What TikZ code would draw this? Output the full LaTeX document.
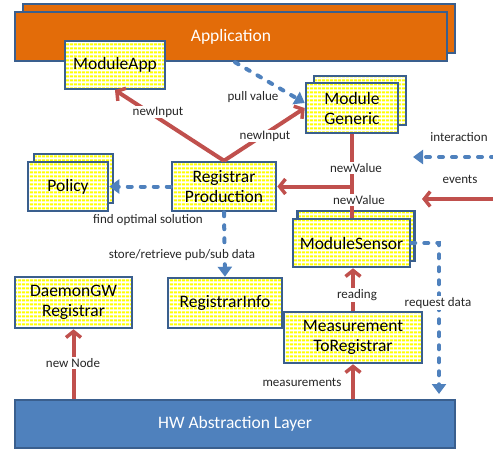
\documentclass[tikz,border=0pt]{standalone}
\usepackage{fontspec}
\setmainfont{Carlito}
\usetikzlibrary{arrows.meta,patterns.meta,calc}
\definecolor{appor}{HTML}{E36C09}
\definecolor{edgeblue}{HTML}{3A5F8E}
\definecolor{redc}{HTML}{C0504D}
\definecolor{blued}{HTML}{4F81BD}
\definecolor{hwblue}{HTML}{4F81BD}
\tikzset{
  box/.style={draw=edgeblue, line width=2.5pt, preaction={fill=white},
    pattern={Lines[angle=0,distance=4pt,line width=2.2pt]}, pattern color=yellow,
    align=center, inner sep=0pt, font=\fontsize{17.5}{20}\selectfont, text=black},
  bigbar/.style={draw=edgeblue, line width=2.5pt, inner sep=0pt,
    font=\fontsize{17.5}{20}\selectfont, text=white},
  lab/.style={fill=white, inner sep=1pt, font=\fontsize{13}{15}\selectfont, text=black!85},
  redarr/.style={draw=redc, line width=4pt, -{Straight Barb[length=6pt,width=15pt,line width=3.5pt]}},
  redln/.style={draw=redc, line width=4pt},
  bluearr/.style={draw=blued, line width=4pt, line cap=round, dash pattern=on 4pt off 9pt,
    -{Triangle[length=10pt,width=14pt,line cap=butt]}},
}
\begin{document}
\begin{tikzpicture}[x=1pt,y=-1pt]
\useasboundingbox (0,0) rectangle (493,452);
% Application
\node[bigbar, fill=appor, minimum width=432pt, minimum height=49pt] (appB) at (239,28.5) {};
\node[bigbar, fill=appor, minimum width=432pt, minimum height=49pt] (app) at (231,36.5) {Application};
% HW layer
\node[bigbar, fill=hwblue, minimum width=440pt, minimum height=48pt] (hw) at (235,424) {HW Abstraction Layer};
% boxes
\node[box, minimum width=100pt, minimum height=48pt] (mapp) at (115,65) {ModuleApp};
\node[box, minimum width=92pt, minimum height=49pt] (genB) at (360,100.5) {};
\node[box, minimum width=92pt, minimum height=50pt] (gen) at (352,108) {Module\\Generic};
\node[box, minimum width=79pt, minimum height=49pt] (polB) at (73.5,178.5) {};
\node[box, minimum width=80pt, minimum height=49pt] (pol) at (68,186.5) {Policy};
\node[box, minimum width=104pt, minimum height=49pt] (rp) at (224,186.5) {Registrar\\Production};
\node[box, minimum width=117pt, minimum height=50pt] (senB) at (356,236) {};
\node[box, minimum width=117pt, minimum height=48pt] (sen) at (351.5,243) {ModuleSensor};
\node[box, minimum width=117pt, minimum height=51pt] (dgw) at (73.5,302.5) {DaemonGW\\Registrar};
\node[box, minimum width=114pt, minimum height=50pt] (ri) at (225,303) {RegistrarInfo};
\node[box, minimum width=138pt, minimum height=51pt] (mtr) at (353,337.5) {Measurement\\ToRegistrar};
% free ends
\coordinate (intS) at (495,157);
\coordinate (intE) at (413,157);
\coordinate (evS) at (495,199);
\coordinate (evE) at (422,199);
\coordinate (reqC) at (439,243);
\coordinate (reqE) at (439,394);
% connectors
\draw[redarr] (rp.north) -- (mapp.south);
\draw[redarr] (rp.north) -- (gen.west);
\draw[bluearr] ([xshift=4pt]app.south) -- ([yshift=5pt]gen.west);
\draw[redarr] (gen.south) |- (rp.east);
\draw[redln] (sen.north) -- (sen.north |- rp.east);
\draw[bluearr] (intS) -- (intE);
\draw[redarr] (evS) -- (evE);
\draw[bluearr] (rp.west) -- (pol.east);
\draw[bluearr] (rp.south) -- (ri.north);
\draw[bluearr] (sen.east) -- (reqC) -- (reqE);
\draw[redarr] (mtr.north) -- (mtr.north |- sen.south);
\draw[redarr] (mtr.south |- hw.north) -- (mtr.south);
\draw[redarr] (dgw.south |- hw.north) -- (dgw.south);
% labels
\node[lab] (l1) at (158,112) {newInput};
\node[lab] (l2) at (265,136) {newInput};
\node[lab] (l3) at (253,97) {pull value};
\node[lab] (l4) at (356,168) {newValue};
\node[lab] (l5) at (359,200) {newValue};
\node[lab] (l6) at (459,137) {interaction};
\node[lab] (l7) at (460,179) {events};
\node[lab] (l8) at (148,220) {find optimal solution};
\node[lab] (l9) at (182,255) {store/retrieve pub/sub data};
\node[lab] (l10) at (438,303) {request data};
\node[lab] (l11) at (357,295) {reading};
\node[lab] (l12) at (302,382) {measurements};
\node[lab] (l13) at (73,363) {new Node};
\end{tikzpicture}
\end{document}
